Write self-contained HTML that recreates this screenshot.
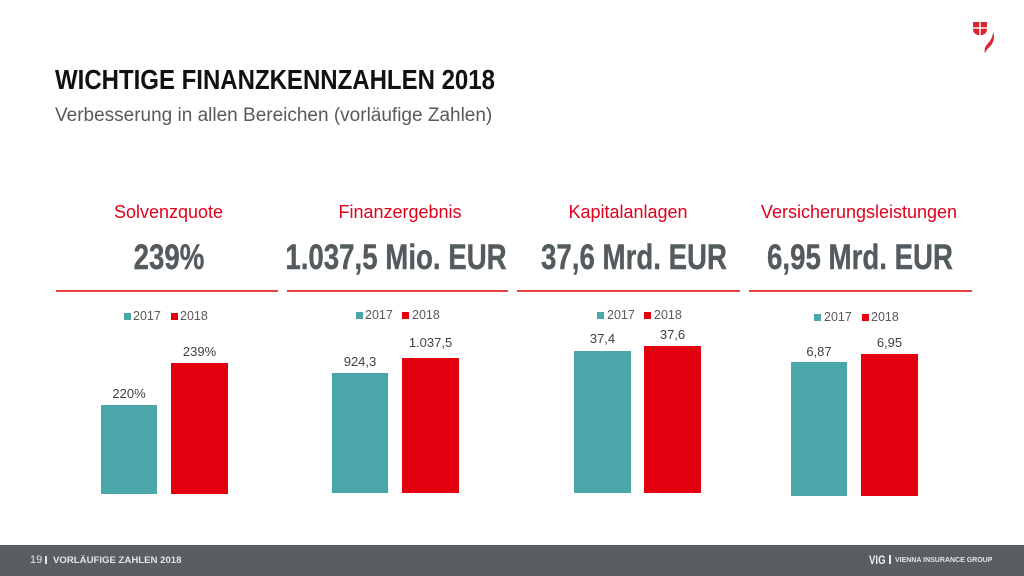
<!DOCTYPE html>
<html><head><meta charset="utf-8">
<style>
html,body{margin:0;padding:0;}
body{width:1024px;height:576px;position:relative;overflow:hidden;background:#fff;font-family:"Liberation Sans",sans-serif;}
.a{position:absolute;white-space:nowrap;}
.c{transform:translateX(-50%);}
.cat{font-size:18px;line-height:18px;color:#e2001a;top:203px;}
.val{font-size:35px;line-height:35px;font-weight:bold;color:#545b5f;top:240px;transform:translateX(-50%) scaleX(0.79);-webkit-text-stroke:0.4px #545b5f;}
.hr{position:absolute;top:290px;height:1.5px;background:#e8403f;}
.bar{position:absolute;}
.t{background:#4aa6a8;}
.r{background:#e2000f;}
.lg{font-size:12.5px;line-height:12.5px;color:#595959;top:310px;}
.sq{position:absolute;width:7px;height:7px;top:313px;}
.dl{font-size:13px;line-height:13px;color:#404040;}
</style></head><body>

<div class="a" style="left:55px;top:66px;font-size:28px;line-height:28px;font-weight:bold;color:#111;transform:scaleX(0.857);transform-origin:0 0;">WICHTIGE FINANZKENNZAHLEN 2018</div>
<div class="a" style="left:55px;top:106px;font-size:19px;line-height:19px;color:#595959;">Verbesserung in allen Bereichen (vorläufige Zahlen)</div>

<svg class="a" style="left:962px;top:12px" width="40" height="46" viewBox="0 0 40 46">
<path d="M11.5 10 H24.5 Q25 10 25 10.5 V17 Q25 22.5 18 23.5 Q11 22.5 11 17 V10.5 Q11 10 11.5 10 Z" fill="#d9232d"/>
<rect x="17.3" y="10" width="1.4" height="14" fill="#fff"/>
<rect x="11" y="15.3" width="14" height="1.4" fill="#fff"/>
<path d="M31.5 20 Q33.5 29 27.5 35 Q23.5 38.5 23 41.5 Q21.5 36 25.5 32 Q30 27.5 31.5 20 Z" fill="#d9232d"/>
</svg>

<!-- category labels -->
<div class="a cat c" style="left:168.5px;">Solvenzquote</div>
<div class="a cat c" style="left:400px;">Finanzergebnis</div>
<div class="a cat c" style="left:628px;">Kapitalanlagen</div>
<div class="a cat c" style="left:859px;">Versicherungsleistungen</div>

<div class="a val" style="left:168.5px;">239%</div>
<div class="a val" style="left:396px;">1.037,5 Mio. EUR</div>
<div class="a val" style="left:634px;">37,6 Mrd. EUR</div>
<div class="a val" style="left:860px;">6,95 Mrd. EUR</div>

<div class="hr" style="left:56px;width:222px;"></div>
<div class="hr" style="left:287px;width:221px;"></div>
<div class="hr" style="left:517px;width:223px;"></div>
<div class="hr" style="left:749px;width:223px;"></div>

<!-- legends -->
<div class="sq t" style="left:124px;"></div><div class="a lg" style="left:133px;">2017</div>
<div class="sq r" style="left:171px;"></div><div class="a lg" style="left:180px;">2018</div>

<div class="sq t" style="left:356px;top:312px;"></div><div class="a lg" style="left:365px;top:309px;">2017</div>
<div class="sq r" style="left:402px;top:312px;"></div><div class="a lg" style="left:412px;top:309px;">2018</div>

<div class="sq t" style="left:597px;top:312px;"></div><div class="a lg" style="left:607px;top:309px;">2017</div>
<div class="sq r" style="left:644px;top:312px;"></div><div class="a lg" style="left:654px;top:309px;">2018</div>

<div class="sq t" style="left:814px;top:314px;"></div><div class="a lg" style="left:824px;top:311px;">2017</div>
<div class="sq r" style="left:862px;top:314px;"></div><div class="a lg" style="left:871px;top:311px;">2018</div>

<!-- bars -->
<div class="bar t" style="left:101px;top:405px;width:56px;height:89px;"></div>
<div class="bar r" style="left:171px;top:363px;width:57px;height:131px;"></div>
<div class="a dl c" style="left:129px;top:387px;">220%</div>
<div class="a dl c" style="left:199.5px;top:345px;">239%</div>

<div class="bar t" style="left:332px;top:373px;width:56px;height:120px;"></div>
<div class="bar r" style="left:402px;top:358px;width:57px;height:135px;"></div>
<div class="a dl c" style="left:360px;top:355px;">924,3</div>
<div class="a dl c" style="left:430.5px;top:336px;">1.037,5</div>

<div class="bar t" style="left:574px;top:351px;width:57px;height:142px;"></div>
<div class="bar r" style="left:644px;top:346px;width:57px;height:147px;"></div>
<div class="a dl c" style="left:602.5px;top:332px;">37,4</div>
<div class="a dl c" style="left:672.5px;top:328px;">37,6</div>

<div class="bar t" style="left:791px;top:362px;width:56px;height:134px;"></div>
<div class="bar r" style="left:861px;top:354px;width:57px;height:142px;"></div>
<div class="a dl c" style="left:819px;top:345px;">6,87</div>
<div class="a dl c" style="left:889.5px;top:336px;">6,95</div>

<!-- footer -->
<div style="position:absolute;left:0;top:545px;width:1024px;height:31px;background:#585e61;"></div>
<div class="a" style="left:30px;top:555px;font-size:11px;line-height:11px;color:#e6e6e6;">19</div>
<div style="position:absolute;left:45px;top:556px;width:2px;height:8px;background:#e6e6e6;"></div>
<div class="a" style="left:53px;top:556px;font-size:9.6px;line-height:10px;font-weight:bold;color:#e6e6e6;">VORLÄUFIGE ZAHLEN 2018</div>
<div class="a" style="left:869px;top:554px;font-size:12px;line-height:12px;font-weight:bold;color:#eeeeee;transform:scaleX(0.8);transform-origin:0 0;">VIG</div>
<div style="position:absolute;left:889px;top:555px;width:2px;height:9px;background:#eeeeee;"></div>
<div class="a" style="left:895px;top:557px;font-size:7px;line-height:8px;font-weight:bold;color:#e6e6e6;">VIENNA INSURANCE GROUP</div>

</body></html>
